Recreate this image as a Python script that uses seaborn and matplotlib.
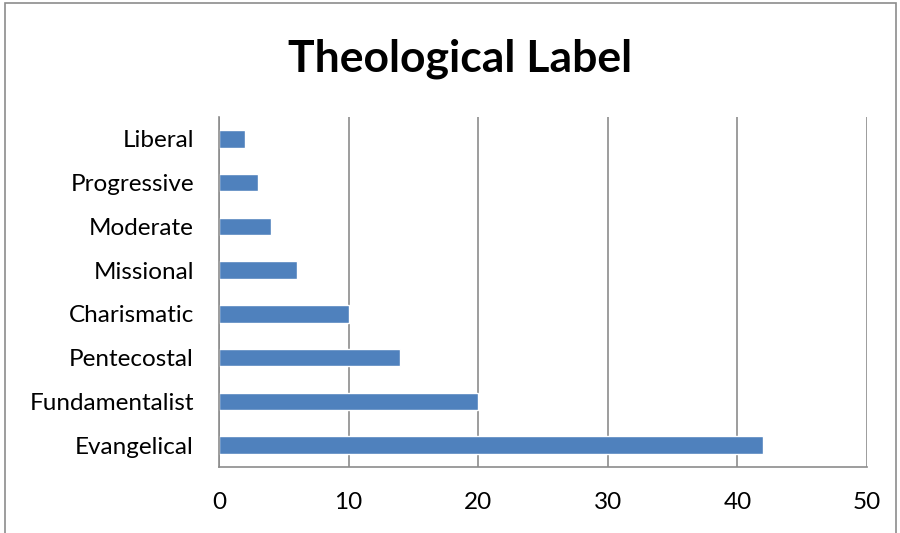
import pandas as pd
import matplotlib.pyplot as plt
import seaborn as sns
from matplotlib.patches import Rectangle
from matplotlib.ticker import FixedLocator

# ============================================== DATA ==============================================
labels = ['Liberal', 'Progressive', 'Moderate', 'Missional', 'Charismatic',
          'Pentecostal', 'Fundamentalist', 'Evangelical']
counts = [2, 3, 4, 6, 10, 14, 20, 42]
x_ticks = [0, 10, 20, 30, 40, 50]

df = pd.DataFrame({'label': labels, 'count': counts})

# ============================================== STYLE ==============================================
sns.set_style('white')
plt.rcParams['font.family'] = ['Lato', 'DejaVu Sans']
axis_grey = '#8c8c8c'

fig = plt.figure(figsize=(9, 5.33), dpi=100)
ax = fig.add_axes([0.2433, 0.1238, 0.72, 0.6567])

sns.barplot(data=df, x='count', y='label', order=labels, orient='h',
            color='#4f81bd', saturation=1, width=0.4, ax=ax)

ax.set_xlim(0, 50)
ax.set_ylim(len(labels) - 0.5, -0.5)
ax.set_xticks(x_ticks)
ax.set_xticklabels([str(t) for t in x_ticks], fontsize=17.5, color='black')
ax.set_xlabel('')
ax.set_ylabel('')
ax.tick_params(axis='y', which='major', length=0, labelsize=17.5, labelcolor='black', pad=18)
ax.yaxis.set_minor_locator(FixedLocator([i - 0.5 for i in range(len(labels) + 1)]))
ax.tick_params(axis='y', which='minor', length=6, color=axis_grey, width=1.2)
ax.tick_params(axis='x', which='major', length=6, color=axis_grey, width=1.2, pad=12)

ax.grid(axis='x', color=axis_grey, linewidth=1.2)
ax.set_axisbelow(True)
for side in ['top', 'right']:
    ax.spines[side].set_visible(False)
for side in ['left', 'bottom']:
    ax.spines[side].set_color(axis_grey)
    ax.spines[side].set_linewidth(1.2)

fig.text(0.511, 0.89, 'Theological Label', ha='center', va='center',
         fontsize=32, fontweight='bold', color='black')

# outer chart border
fig.patches.append(Rectangle((0.006, -0.01), 0.99, 1.005, transform=fig.transFigure,
                             fill=False, edgecolor='#8c8c8c', linewidth=1.2))

fig.savefig('out.png', dpi=100, facecolor='white')
